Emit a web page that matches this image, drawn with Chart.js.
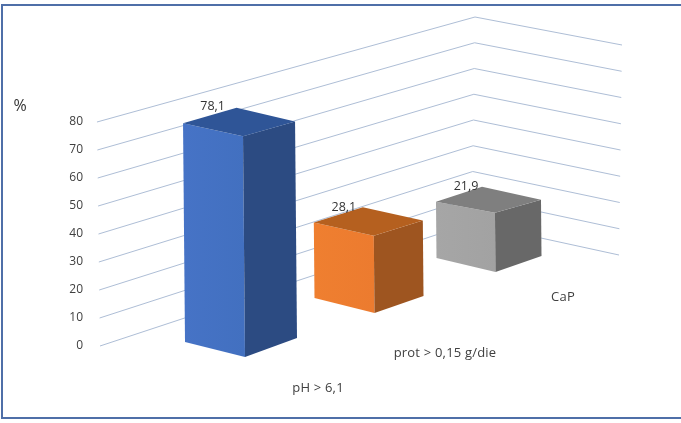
<!DOCTYPE html>
<html>
<head>
<meta charset="utf-8">
<style>html,body{margin:0;padding:0;background:#fff}canvas{display:block}</style>
<script src="https://cdn.jsdelivr.net/npm/chart.js@4"></script>
</head>
<body>
<canvas id="c" width="681" height="423"></canvas>
<script>
const categories = ["pH > 6,1", "prot > 0,15 g/die", "CaP"];
const values = [78.1, 28.1, 21.9];
const valueLabels = ["78,1", "28,1", "21,9"];
const tickLabels = ["0","10","20","30","40","50","60","70","80"];
const axisUnit = "%";

const FONT = '"Open Sans", sans-serif';
const TEXT = '#404040';
const palette = [
  {front:['#4673c6','#4270c0'], side:'#2c4b82', top:'#2f5597'},
  {front:['#ef7f30','#ec7b2f'], side:'#9e5520', top:'#b5601f'},
  {front:['#a6a6a6','#a2a2a2'], side:'#686868', top:'#7f7f7f'}
];
// Floor footprint of each prism, [x, y, height factor] per corner
const footprints = [
  {l:[185,342,1.000], f:[245,357,1.010], r:[297,338,0.990], b:[238.5,322,0.980], label:[-24,-1], cat:[318,388]},
  {l:[314.5,298,0.958], f:[374.5,313,0.983], r:[423.5,296,0.958], b:[363.5,282,0.950], label:[-19,0], cat:[445,353]},
  {l:[436.5,258,0.918], f:[495.5,272,0.967], r:[541.5,256,0.918], b:[482.5,242,0.900], label:[-16,0], cat:[563,297]}
];
const LEAN = 0.009;

const prism3d = {
  id: 'prism3d',
  beforeDraw(chart) {
    const {ctx, width, height} = chart;
    ctx.save();
    ctx.fillStyle = '#fff';
    ctx.fillRect(0, 0, width, height);
    ctx.strokeStyle = '#4f6fa8';
    ctx.lineWidth = 2;
    ctx.beginPath();
    ctx.moveTo(width, 5);
    ctx.lineTo(2, 5);
    ctx.lineTo(2, 418);
    ctx.lineTo(width, 418);
    ctx.stroke();
    ctx.restore();
  },
  beforeDatasetsDraw(chart) {
    const {ctx, scales:{y}} = chart;
    const zero = y.getPixelForValue(0);
    ctx.save();
    ctx.strokeStyle = '#aebed6';
    ctx.lineWidth = 1;
    y.ticks.forEach(t => {
      const h = zero - y.getPixelForValue(t.value);
      const lean = h * 0.0134;
      ctx.beginPath();
      ctx.moveTo(100 - lean, zero - h);
      ctx.lineTo(472 + lean, 223 - h * 0.9196);
      ctx.lineTo(619 + lean, 255 - h * 0.9375);
      ctx.stroke();
    });
    ctx.restore();
  },
  afterDatasetsDraw(chart) {
    const {ctx} = chart;
    const bars = chart.getDatasetMeta(0).data;
    const poly = (pts, fill) => {
      ctx.beginPath();
      pts.forEach((p, i) => i ? ctx.lineTo(p[0], p[1]) : ctx.moveTo(p[0], p[1]));
      ctx.closePath();
      ctx.fillStyle = fill;
      ctx.fill();
    };
    bars.forEach((bar, i) => {
      const h = bar.base - bar.y;
      const g = footprints[i], c = palette[i];
      const up = p => [p[0] - LEAN * h * p[2], p[1] - h * p[2]];
      const L = up(g.l), F = up(g.f), R = up(g.r), B = up(g.b);
      const grad = ctx.createLinearGradient(L[0], 0, g.f[0], 0);
      grad.addColorStop(0, c.front[0]);
      grad.addColorStop(1, c.front[1]);
      poly([L, F, g.f, g.l], grad);
      poly([F, R, g.r, g.f], c.side);
      poly([L, B, R, F], c.top);
      ctx.save();
      ctx.font = '12.5px ' + FONT;
      ctx.fillStyle = '#333';
      ctx.textAlign = 'center';
      ctx.textBaseline = 'middle';
      ctx.fillText(valueLabels[i], B[0] + g.label[0], B[1] + g.label[1]);
      ctx.font = '13px ' + FONT;
      ctx.letterSpacing = '0.2px';
      ctx.fillStyle = TEXT;
      ctx.fillText(chart.data.labels[i], g.cat[0], g.cat[1]);
      ctx.restore();
    });
    ctx.save();
    ctx.font = '16px ' + FONT;
    ctx.fillStyle = '#333';
    ctx.textAlign = 'center';
    ctx.textBaseline = 'middle';
    ctx.fillText(axisUnit, 20, 106);
    ctx.restore();
  }
};

new Chart(document.getElementById('c'), {
  type: 'bar',
  data: {
    labels: categories,
    datasets: [{data: values, backgroundColor: 'transparent', borderWidth: 0}]
  },
  plugins: [prism3d],
  options: {
    responsive: false,
    animation: false,
    events: [],
    layout: {padding: {top: 122, bottom: 77, left: 0, right: 59}},
    plugins: {legend: {display: false}, title: {display: false}, tooltip: {enabled: false}},
    scales: {
      x: {display: false},
      y: {
        min: 0, max: 80,
        afterFit(s) { s.width = 97; },
        grid: {display: false, drawTicks: false},
        border: {display: false},
        ticks: {
          stepSize: 10, padding: 14, color: TEXT,
          font: {family: '"Open Sans"', size: 12},
          callback: (v, i) => tickLabels[i]
        }
      }
    }
  }
});
</script>
</body>
</html>
